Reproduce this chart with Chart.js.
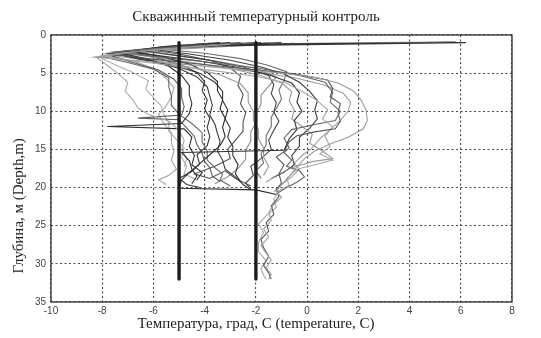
<!DOCTYPE html>
<html>
<head>
<meta charset="utf-8">
<script src="https://cdn.jsdelivr.net/npm/chart.js@4.4.1/dist/chart.umd.min.js"></script>
<style>
  html, body { margin: 0; padding: 0; background: #ffffff; }
  #wrap { width: 541px; height: 338px; }
</style>
</head>
<body>
<div id="wrap"><canvas id="chart" width="541" height="338"></canvas></div>
<script>
// Axis ticks
const tempTicks = [-10, -8, -6, -4, -2, 0, 2, 4, 6, 8];
const depthTicks = [0, 5, 10, 15, 20, 25, 30, 35];

// Control levels (temperature, C) and the depth span they cover (m)
const controlTemps = [-5, -2];
const controlDepthSpan = [1, 32];

// Well temperature profiles: [temperature C, depth m]
const profile01 = [[-3.0,1.2],[-6.0,1.9],[-8.3,2.9],[-6.8,3.3],[-5.0,3.8],[-3.0,4.4],[-1.0,5.0],[0.4,5.6],[1.2,6.3],[1.8,7.3],[2.1,8.5],[2.3,9.8],[2.35,11.2],[2.2,12.3],[1.6,13.4],[0.9,14.3],[0.3,15.2],[-0.1,16.2],[-0.4,17.3],[-0.7,18.6],[-1.0,19.6],[-1.2,20.5],[-1.0,21.3],[-1.3,22.2],[-1.5,23.3],[-1.4,24.3],[-1.7,25.4],[-1.5,26.5],[-1.8,27.6],[-1.6,28.6],[-1.4,29.5],[-1.6,30.5],[-1.4,31.4],[-1.5,32.0]];
const profile02 = [[-2.5,1.1],[-5.5,1.7],[-7.8,2.4],[-6.5,3.0],[-4.5,3.7],[-2.5,4.4],[-0.5,5.1],[0.8,5.9],[1.0,7.0],[0.9,8.1],[1.3,9.0],[1.2,10.2],[1.3,11.3],[1.1,12.3],[0.3,12.7],[-0.4,13.2],[-0.7,14.0],[-0.9,15.3],[-1.2,16.0],[-0.9,17.0],[-1.1,18.2],[-1.0,19.4],[-1.2,20.2],[-1.1,21.2],[-1.4,22.4],[-1.3,23.5],[-1.6,24.6],[-1.5,25.7],[-1.8,26.8],[-1.7,27.9],[-1.5,29.0],[-1.7,30.2],[-1.5,31.2],[-1.4,32.0]];
const profile03 = [[-3.5,1.3],[-6.5,2.0],[-8.0,2.7],[-7.0,3.3],[-5.5,3.9],[-3.8,4.6],[-2.0,5.4],[-0.8,6.3],[-0.2,7.4],[0.4,8.6],[0.8,9.8],[0.6,11.0],[1.0,12.0],[0.7,13.3],[0.9,14.6],[0.5,15.6],[1.0,16.4],[0.3,17.0],[-0.4,17.6],[-0.8,18.8],[-0.7,19.7],[-1.1,20.4],[-1.3,21.5],[-1.2,22.6],[-1.6,23.7],[-1.9,24.8],[-1.7,25.9],[-1.9,27.2],[-1.9,28.4],[-1.6,29.6],[-1.8,30.6],[-1.7,31.5],[-1.6,32.0]];
const profile04 = [[-2.0,1.0],[-5.0,1.5],[-7.5,2.2],[-6.0,2.8],[-4.0,3.5],[-2.0,4.3],[-0.4,5.2],[0.7,6.2],[1.0,7.5],[0.9,8.8],[1.3,10.0],[1.1,11.2],[0.2,11.8],[-0.6,12.4],[-0.9,13.5],[-0.7,14.8],[-0.9,15.4],[-0.6,16.4],[-0.8,17.2],[-0.3,17.8],[-0.1,18.6],[-0.4,19.3],[-0.8,20.0],[-1.2,20.8]];
const profile05 = [[-1.5,1.1],[-4.5,1.5],[-7.0,2.1],[-5.8,2.7],[-4.2,3.4],[-2.8,4.2],[-1.5,5.2],[-0.6,6.3],[-0.3,7.6],[-0.4,8.8],[-0.2,10.0],[-0.5,11.2],[-0.4,12.4],[-0.7,13.6],[-0.9,15.1],[-4.9,15.4],[-4.6,16.5],[-4.5,17.6],[-4.3,18.5],[-4.5,19.5]];
const profile06 = [[-4.0,1.2],[-6.2,1.8],[-7.2,2.6],[-6.0,3.4],[-5.0,4.4],[-4.3,5.5],[-3.9,6.8],[-3.8,8.0],[-3.7,9.2],[-3.8,10.5],[-3.6,11.7],[-3.5,12.9],[-3.4,14.0],[-3.5,15.2],[-3.3,16.4],[-3.2,17.6],[-2.8,18.6],[-2.5,19.6],[-2.2,20.3]];
const profile07 = [[-4.5,1.4],[-7.0,2.2],[-8.2,3.0],[-7.8,4.0],[-7.4,5.0],[-7.0,6.2],[-7.1,7.4],[-6.8,8.5],[-6.6,9.6],[-6.2,10.4],[-5.4,11.3],[-5.0,12.5],[-4.8,13.8],[-4.9,15.0],[-4.7,16.2],[-4.8,17.3]];
const profile08 = [[-3.0,1.0],[-5.8,1.6],[-7.4,2.3],[-6.3,3.1],[-5.4,4.1],[-4.9,5.3],[-4.6,6.6],[-4.6,7.8],[-4.5,9.0],[-4.6,10.3],[-4.9,11.6],[-7.8,12.0],[-4.8,12.3],[-4.5,13.4],[-4.6,14.6],[-4.4,15.8],[-4.5,17.0],[-4.1,18.0],[-4.3,19.0]];
const profile09 = [[-3.8,1.1],[-6.5,1.9],[-7.6,2.8],[-6.8,3.6],[-5.8,4.6],[-5.2,5.8],[-4.9,7.0],[-4.9,8.2],[-4.8,9.4],[-4.9,10.5],[-6.6,10.9],[-5.0,11.1],[-4.7,12.2],[-4.4,13.3],[-4.3,14.4],[-4.1,15.5],[-4.0,16.6],[-3.8,17.4],[-3.7,18.5],[-3.4,19.2]];
const profile10 = [[-5.0,1.5],[-1.0,1.3],[6.2,1.0],[-2.0,1.2],[-6.0,1.8],[-7.6,2.4],[-6.5,3.2],[-5.2,4.0],[-4.2,5.0],[-3.6,6.2],[-3.3,7.4],[-3.3,8.6],[-3.1,9.8],[-3.2,11.0],[-3.0,12.2],[-3.1,13.4],[-2.9,14.6],[-2.9,15.8],[-2.7,17.0],[-2.8,18.2],[-2.6,19.2]];
const profile11 = [[-4.0,1.4],[5.8,0.9],[0.0,1.1],[-5.5,1.7],[-7.2,2.5],[-6.0,3.3],[-4.6,4.2],[-3.4,5.2],[-2.6,6.4],[-2.3,7.6],[-2.3,8.8],[-2.1,10.0],[-2.1,11.2],[-1.9,12.4],[-1.9,13.6],[-1.7,14.8],[-1.7,16.0],[-1.5,17.2],[-1.7,18.4]];
const profile12 = [[-2.8,1.2],[-5.2,1.6],[-6.8,2.2],[-5.6,2.9],[-4.6,3.8],[-3.9,4.9],[-3.5,6.1],[-3.5,7.3],[-3.3,8.5],[-3.4,9.7],[-3.2,10.9],[-3.3,12.1],[-3.2,13.3],[-3.4,14.5],[-3.8,15.7],[-4.2,16.9],[-4.6,18.0],[-4.9,19.0],[-5.0,20.1],[-2.0,20.3],[-1.2,20.9]];
const profile13 = [[-2.2,1.1],[-5.0,1.6],[-7.3,2.3],[-6.0,2.9],[-4.5,3.6],[-3.0,4.4],[-1.8,5.3],[-1.0,6.3],[-0.6,7.4],[-0.7,8.6],[-0.5,9.8],[-0.6,11.0],[-0.2,12.0],[0.2,13.0],[0.1,14.2],[0.6,15.2],[1.0,16.2],[0.2,16.6],[-0.6,17.4],[-1.2,18.4],[-1.6,19.3]];
const profile14 = [[-1.8,1.0],[-4.2,1.4],[-6.6,2.0],[-5.3,2.6],[-3.8,3.3],[-2.5,4.2],[-1.5,5.3],[-1.3,6.5],[-1.4,7.7],[-1.2,8.9],[-1.3,10.1],[-1.1,11.3],[-1.3,12.5],[-1.5,13.8],[-1.4,15.0],[-1.8,16.2],[-2.2,17.2],[-2.1,18.4],[-2.4,19.4],[-2.2,20.2]];
const profile15 = [[-4.2,1.2],[-6.8,2.0],[-7.9,2.9],[-7.0,3.6],[-6.0,4.5],[-5.4,5.6],[-5.4,6.8],[-5.3,8.0],[-5.3,9.2],[-5.0,10.4],[-4.5,11.6],[-4.1,12.8],[-4.1,14.0],[-3.9,15.2],[-3.9,16.4],[-3.6,17.4],[-3.3,18.2],[-3.4,19.0],[-3.0,19.8]];
const profile16 = [[-3.3,1.3],[-6.0,2.0],[-7.7,2.7],[-6.7,3.5],[-5.9,4.5],[-5.5,5.7],[-5.2,6.9],[-5.3,8.1],[-5.5,9.3],[-5.8,10.4],[-5.6,11.6],[-5.3,12.8],[-5.3,14.0],[-5.2,15.2],[-5.3,16.4],[-5.1,17.6],[-5.4,18.4],[-5.8,19.0],[-5.5,19.6]];
const profile17 = [[-2.6,1.0],[-4.8,1.4],[-6.2,1.9],[-5.0,2.5],[-3.8,3.3],[-3.0,4.3],[-2.6,5.4],[-2.7,6.6],[-2.5,7.8],[-2.6,9.0],[-2.4,10.2],[-2.5,11.4],[-2.5,12.6],[-2.8,13.8],[-3.1,15.0],[-3.0,16.2],[-3.6,17.2],[-4.4,18.2],[-3.8,18.8],[-3.2,17.8],[-2.8,18.8],[-2.2,19.8]];
const profile18 = [[-1.2,1.1],[-3.8,1.5],[-6.3,2.1],[-5.0,2.7],[-3.4,3.5],[-2.0,4.4],[-1.2,5.5],[-1.5,6.7],[-1.8,7.9],[-1.8,9.1],[-2.0,10.3],[-2.0,11.5],[-2.2,12.7],[-2.2,13.9],[-2.4,15.1],[-2.4,16.3],[-2.7,17.5],[-3.1,18.6],[-3.6,19.5]];
const profile19 = [[-1.0,1.0],[-3.5,1.3],[-6.0,1.9],[-4.6,2.5],[-3.0,3.3],[-1.8,4.2],[-0.9,5.1],[-0.3,6.2],[0.1,7.4],[0.4,8.6],[0.3,9.8],[0.4,11.0],[0.1,12.2],[-0.3,13.4],[-0.3,14.6],[-0.6,15.8],[-0.5,17.0],[-0.9,18.0],[-1.4,18.8]];
const profile20 = [[-2.0,1.3],[-5.2,1.9],[-7.6,2.7],[-6.2,3.3],[-4.2,4.0],[-2.0,4.8],[-0.5,5.6],[0.6,6.5],[1.4,7.6],[1.7,8.8],[1.6,10.0],[1.3,11.2],[0.9,12.4],[0.5,13.6],[0.2,14.8],[-0.2,15.8],[-0.5,16.8],[-0.3,17.6],[-0.6,18.6],[-1.0,19.6],[-1.3,20.6]];
const profile21 = [[-3.4,1.0],[-5.6,1.5],[-7.0,2.2],[-6.0,2.9],[-5.0,3.8],[-4.3,4.9],[-4.0,6.1],[-4.1,7.3],[-3.9,8.5],[-4.0,9.7],[-3.8,10.9],[-3.9,12.1],[-3.8,13.3],[-3.9,14.5],[-4.3,15.7],[-4.2,16.9],[-4.5,17.9],[-5.0,18.8],[-4.7,19.6],[-4.2,20.0]];
const profile22 = [[-0.5,1.1],[-3.0,1.4],[-5.6,1.9],[-4.0,2.4],[-2.6,3.1],[-1.6,3.9],[-0.8,4.8],[-0.9,6.0],[-1.1,7.2],[-1.0,8.4],[-1.2,9.6],[-1.4,10.8],[-1.4,12.0],[-1.6,13.2],[-1.6,14.4],[-1.8,15.6],[-1.7,16.8],[-2.0,17.8],[-1.8,18.8]];
const profile23 = [[-4.8,1.3],[-7.2,2.1],[-8.1,2.9],[-7.5,3.9],[-6.8,4.9],[-6.2,6.0],[-6.3,7.1],[-6.0,8.2],[-5.7,9.3],[-5.6,10.4],[-5.4,11.5],[-5.4,12.6],[-5.1,13.7],[-4.8,14.8],[-4.9,16.0],[-4.7,17.2],[-4.8,18.2],[-4.3,19.0]];

const profiles = [profile01, profile02, profile03, profile04, profile05, profile06, profile07, profile08,
  profile09, profile10, profile11, profile12, profile13, profile14, profile15, profile16, profile17,
  profile18, profile19, profile20, profile21, profile22, profile23];

// Line shades for the profiles, in the same order
const profileShades = ['#9c9c9c', '#555555', '#a8a8a8', '#666666', '#333333', '#3a3a3a', '#aaaaaa', '#2e2e2e',
  '#5c5c5c', '#333333', '#999999', '#2a2a2a', '#9a9a9a', '#444444', '#666666', '#a5a5a5', '#505050',
  '#8c8c8c', '#3c3c3c', '#a0a0a0', '#353535', '#707070', '#b0b0b0'];

const SERIF = '"Liberation Serif", "Times New Roman", serif';
const SANS = '"Liberation Sans", Arial, sans-serif';

const datasets = [];
controlTemps.forEach(t => {
  datasets.push({
    data: controlDepthSpan.map(d => ({ x: t, y: d })),
    borderColor: '#1c1c1c',
    borderWidth: 3.4,
    borderCapStyle: 'round',
    showLine: true,
    pointRadius: 0
  });
});
profiles.forEach((p, i) => {
  datasets.push({
    data: p.map(([t, d]) => ({ x: t, y: d })),
    borderColor: profileShades[i],
    borderWidth: 1.1,
    showLine: true,
    pointRadius: 0,
    tension: 0
  });
});

// Frame around the plotting area and the rotated depth caption
const frameAndCaption = {
  id: 'frameAndCaption',
  afterDraw(chart) {
    const { ctx, chartArea: a } = chart;
    ctx.save();
    ctx.strokeStyle = '#3a3a3a';
    ctx.lineWidth = 1.4;
    ctx.strokeRect(a.left, a.top, a.right - a.left, a.bottom - a.top);
    ctx.translate(19, a.top + (a.bottom - a.top) * 0.64);
    ctx.rotate(-Math.PI / 2);
    ctx.fillStyle = '#222222';
    ctx.font = '15px ' + SERIF;
    ctx.textAlign = 'center';
    ctx.textBaseline = 'middle';
    ctx.fillText('Глубина, м (Depth,m)', 0, 0);
    ctx.restore();
  }
};

const gridStyle = {
  display: true,
  color: '#4a4a4a',
  lineWidth: 1.1,
  drawTicks: false
};

new Chart(document.getElementById('chart'), {
  type: 'scatter',
  data: { datasets },
  options: {
    responsive: false,
    animation: false,
    devicePixelRatio: 1,
    layout: { padding: { left: 0, right: 29, top: 0, bottom: 0 } },
    plugins: {
      legend: { display: false },
      tooltip: { enabled: false },
      title: {
        display: true,
        text: 'Скважинный температурный контроль',
        color: '#222222',
        font: { family: SERIF, size: 15, weight: 'normal' },
        padding: { top: 8, bottom: 9 }
      },
      subtitle: {
        display: true,
        position: 'bottom',
        text: 'Температура, град, С (temperature, C)',
        color: '#222222',
        font: { family: SERIF, size: 15, weight: 'normal' },
        padding: { top: 0, bottom: 5 }
      }
    },
    scales: {
      x: {
        type: 'linear',
        min: tempTicks[0],
        max: tempTicks[tempTicks.length - 1],
        afterBuildTicks: s => { s.ticks = tempTicks.map(v => ({ value: v })); },
        afterFit: s => { s.height = 13; },
        border: { display: false, dash: [2, 2.5] },
        grid: gridStyle,
        ticks: { color: '#444444', font: { family: SANS, size: 10 }, padding: 3, maxRotation: 0 }
      },
      y: {
        type: 'linear',
        reverse: true,
        min: depthTicks[0],
        max: depthTicks[depthTicks.length - 1],
        afterBuildTicks: s => { s.ticks = depthTicks.map(v => ({ value: v })); },
        afterFit: s => { s.width = 51; },
        border: { display: false, dash: [2, 2.5] },
        grid: gridStyle,
        ticks: { color: '#444444', font: { family: SANS, size: 10 }, padding: 5 }
      }
    }
  },
  plugins: [frameAndCaption]
});
</script>
</body>
</html>
